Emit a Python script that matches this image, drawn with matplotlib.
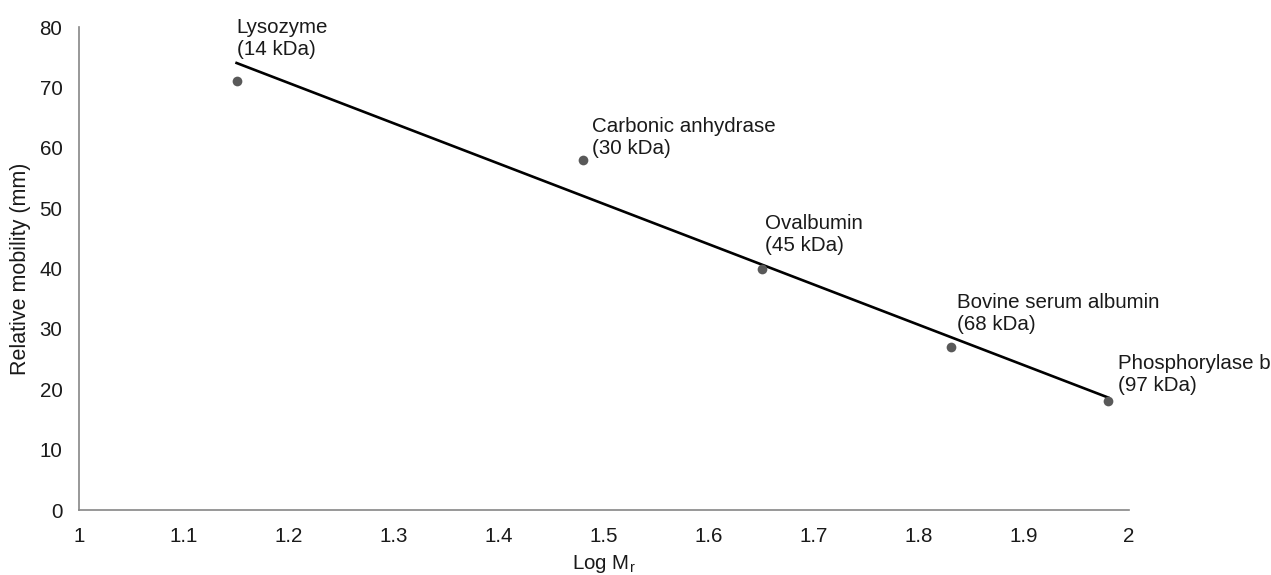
import numpy as np
import matplotlib
matplotlib.use("Agg")
import matplotlib.pyplot as plt

plt.rcParams['font.family'] = ['Liberation Sans', 'DejaVu Sans']

# Protein standards: log10(Mr) vs measured relative mobility
proteins = ["Lysozyme", "Carbonic anhydrase", "Ovalbumin",
            "Bovine serum albumin", "Phosphorylase b"]
masses_kda = [14, 30, 45, 68, 97]
log_mr = [1.15, 1.48, 1.65, 1.83, 1.98]
mobility_mm = [71, 58, 40, 27, 18]

x_ticks = [1, 1.1, 1.2, 1.3, 1.4, 1.5, 1.6, 1.7, 1.8, 1.9, 2]
y_ticks = [0, 10, 20, 30, 40, 50, 60, 70, 80]

# label offsets from each point, in pixels (right, up)
label_offsets = [(0, 22), (9, 2), (3, 14), (6, 13), (10, 6)]

FS = 14.8
TXT = '#1a1a1a'

fig = plt.figure(figsize=(12.71, 5.75), dpi=100)
ax = fig.add_axes([0.0622, 0.113, 0.8262, 0.840])

# linear trendline (least squares), drawn over the data range
slope, intercept = np.polyfit(log_mr, mobility_mm, 1)
xfit = np.array([min(log_mr), max(log_mr)])
ax.plot(xfit, slope * xfit + intercept, color='black', lw=1.9, zorder=2)

ax.plot(log_mr, mobility_mm, 'o', color='#595959', ms=7, mec='none', zorder=3)

for name, kda, x, y, (dx, dy) in zip(proteins, masses_kda, log_mr, mobility_mm, label_offsets):
    ax.annotate(f"{name}\n({kda} kDa)", (x, y), xytext=(dx, dy),
                textcoords='offset pixels', ha='left', va='bottom',
                fontsize=FS, color=TXT, linespacing=1.2,
                annotation_clip=False)

ax.set_xlim(1, 2)
ax.set_ylim(0, 80)
ax.set_xticks(x_ticks)
ax.set_xticklabels([f"{t:g}" for t in x_ticks])
ax.set_yticks(y_ticks)
ax.tick_params(length=0, labelsize=FS, labelcolor=TXT)
ax.tick_params(axis='x', pad=12)
ax.tick_params(axis='y', pad=12)

for side in ('top', 'right'):
    ax.spines[side].set_visible(False)
for side in ('left', 'bottom'):
    ax.spines[side].set_color('#868686')
    ax.spines[side].set_linewidth(1.2)

ax.set_xlabel("Log M$_\\mathregular{r}$", fontsize=FS, color=TXT, labelpad=5)
ax.set_ylabel("Relative mobility (mm)", fontsize=15.5, color=TXT, labelpad=6)

fig.savefig("out.png", dpi=100)
